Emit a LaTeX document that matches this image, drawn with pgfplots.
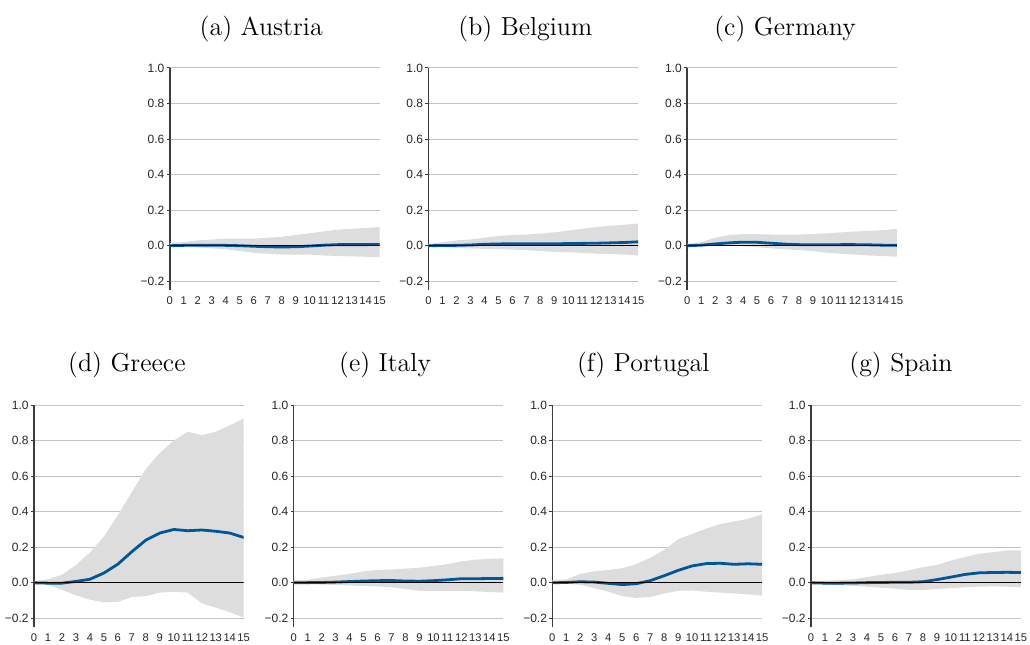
\documentclass[border=0pt]{standalone}
\usepackage{fontspec}
\usepackage{pgfplots}
\usepackage{pgfplotstable}
\pgfplotsset{compat=1.18}
\usepgfplotslibrary{fillbetween}
\newfontfamily\tickfont{Liberation Sans}

\definecolor{irfblue}{RGB}{0,87,150}
\definecolor{bandgray}{RGB}{221,221,221}
\definecolor{gridgray}{RGB}{195,195,195}
\definecolor{axisgray}{RGB}{60,60,60}

% x: horizon, lo/hi: band, med: response
\pgfplotstableread{
x lo med hi
0 -0.005 0.000 0.015
1 -0.008 0.002 0.020
2 -0.010 0.003 0.030
3 -0.015 0.003 0.035
4 -0.020 0.002 0.040
5 -0.030 0.000 0.040
6 -0.040 -0.003 0.040
7 -0.045 -0.006 0.045
8 -0.050 -0.007 0.050
9 -0.050 -0.006 0.060
10 -0.050 -0.002 0.070
11 -0.055 0.003 0.080
12 -0.058 0.006 0.090
13 -0.060 0.006 0.095
14 -0.062 0.006 0.100
15 -0.065 0.007 0.105
}\austria
\pgfplotstableread{
x lo med hi
0 -0.003 0.000 0.010
1 -0.008 0.001 0.020
2 -0.012 0.002 0.030
3 -0.015 0.004 0.035
4 -0.018 0.008 0.045
5 -0.020 0.010 0.055
6 -0.022 0.011 0.060
7 -0.025 0.011 0.063
8 -0.030 0.011 0.068
9 -0.035 0.011 0.075
10 -0.037 0.012 0.085
11 -0.040 0.013 0.095
12 -0.045 0.014 0.105
13 -0.047 0.016 0.112
14 -0.050 0.018 0.118
15 -0.055 0.022 0.125
}\belgium
\pgfplotstableread{
x lo med hi
0 -0.002 0.000 0.010
1 -0.003 0.003 0.020
2 -0.002 0.010 0.045
3 -0.001 0.016 0.060
4 -0.003 0.020 0.065
5 -0.008 0.019 0.065
6 -0.015 0.014 0.063
7 -0.020 0.009 0.062
8 -0.025 0.006 0.063
9 -0.030 0.005 0.066
10 -0.040 0.005 0.070
11 -0.045 0.006 0.075
12 -0.050 0.006 0.080
13 -0.055 0.005 0.083
14 -0.058 0.003 0.088
15 -0.062 0.002 0.095
}\germany
\pgfplotstableread{
x lo med hi
0 -0.002 0.000 0.010
1 -0.010 -0.002 0.020
2 -0.040 -0.002 0.045
3 -0.070 0.008 0.100
4 -0.095 0.020 0.170
5 -0.110 0.055 0.260
6 -0.107 0.105 0.380
7 -0.080 0.175 0.510
8 -0.075 0.240 0.640
9 -0.055 0.280 0.730
10 -0.050 0.300 0.800
11 -0.055 0.293 0.850
12 -0.115 0.297 0.830
13 -0.140 0.290 0.850
14 -0.165 0.280 0.885
15 -0.195 0.255 0.925
}\greece
\pgfplotstableread{
x lo med hi
0 -0.003 0.000 0.015
1 -0.008 0.001 0.017
2 -0.010 0.002 0.030
3 -0.012 0.004 0.040
4 -0.015 0.007 0.050
5 -0.018 0.010 0.065
6 -0.020 0.012 0.072
7 -0.025 0.013 0.075
8 -0.035 0.010 0.080
9 -0.045 0.009 0.085
10 -0.045 0.012 0.095
11 -0.045 0.017 0.105
12 -0.045 0.023 0.120
13 -0.048 0.023 0.130
14 -0.052 0.024 0.135
15 -0.055 0.025 0.137
}\italy
\pgfplotstableread{
x lo med hi
0 -0.003 0.000 0.015
1 -0.005 0.002 0.020
2 -0.012 0.006 0.050
3 -0.030 0.004 0.065
4 -0.050 -0.003 0.072
5 -0.075 -0.010 0.082
6 -0.085 -0.005 0.105
7 -0.080 0.012 0.140
8 -0.060 0.040 0.185
9 -0.045 0.070 0.245
10 -0.043 0.095 0.275
11 -0.050 0.108 0.305
12 -0.055 0.110 0.330
13 -0.060 0.104 0.345
14 -0.065 0.107 0.360
15 -0.072 0.104 0.385
}\portugal
\pgfplotstableread{
x lo med hi
0 -0.003 0.000 0.010
1 -0.008 -0.002 0.012
2 -0.012 -0.002 0.015
3 -0.017 -0.001 0.020
4 -0.022 0.001 0.032
5 -0.028 0.002 0.045
6 -0.033 0.003 0.055
7 -0.040 0.003 0.070
8 -0.040 0.006 0.088
9 -0.035 0.018 0.100
10 -0.030 0.032 0.125
11 -0.025 0.047 0.145
12 -0.022 0.056 0.163
13 -0.020 0.058 0.172
14 -0.022 0.059 0.182
15 -0.025 0.058 0.183
}\spain

\pgfplotsset{
  irf/.style={
    scale only axis, width=105pt, height=111.25pt,
    anchor=south west,
    xmin=0, xmax=15, ymin=-0.25, ymax=1,
    axis x line*=bottom, axis y line*=left,
    x axis line style={draw=none},
    y axis line style={axisgray, line width=0.8pt},
    xtick={0,...,15}, xtick style={draw=none},
    ytick={-0.2,0,0.2,0.4,0.6,0.8,1},
    yticklabels={−0.2,0.0,0.2,0.4,0.6,0.8,1.0},
    ytick style={axisgray, line width=0.5pt},
    tick align=outside, major tick length=1.5pt,
    ymajorgrids, grid style={gridgray, line width=0.5pt},
    /pgf/number format/assume math mode=true,
    yticklabel style={font=\tickfont\fontsize{6}{7}\selectfont, text=black!85, inner sep=1pt},
    xticklabel style={font=\tickfont\fontsize{5.6}{7}\selectfont, text=black!85, inner sep=1.5pt},
  }
}

% one panel: x, y of lower left corner, table
\newcommand{\irfpanel}[3]{%
  \begin{axis}[irf, at={(#1,#2)}]
    \addplot[draw=none, name path=hi] table[x=x, y=hi] {#3};
    \addplot[draw=none, name path=lo] table[x=x, y=lo] {#3};
    \addplot[fill=bandgray, draw=none] fill between[of=hi and lo];
    \addplot[irfblue, line width=1.4pt] table[x=x, y=med] {#3};
    \addplot[black, line width=0.5pt] coordinates {(0,0) (15,0)};
  \end{axis}}

\begin{document}
\begin{tikzpicture}
  \irfpanel{85pt}{-145.25pt}{\austria}
  \irfpanel{214.5pt}{-145.25pt}{\belgium}
  \irfpanel{344pt}{-145.25pt}{\germany}
  \irfpanel{17pt}{-314pt}{\greece}
  \irfpanel{147pt}{-314pt}{\italy}
  \irfpanel{276.5pt}{-314pt}{\portugal}
  \irfpanel{406pt}{-314pt}{\spain}

  \begin{scope}[every node/.style={anchor=base, font=\fontsize{13}{15}\selectfont}]
    \node at (130.75pt,-18pt) {(a) Austria};
    \node at (263pt,-18pt) {(b) Belgium};
    \node at (393pt,-18pt) {(c) Germany};
    \node at (63.5pt,-186pt) {(d) Greece};
    \node at (192.75pt,-186pt) {(e) Italy};
    \node at (322pt,-186pt) {(f) Portugal};
    \node at (451pt,-186pt) {(g) Spain};
  \end{scope}
  \path (0,0) rectangle (515pt,-322pt);
\end{tikzpicture}
\end{document}
